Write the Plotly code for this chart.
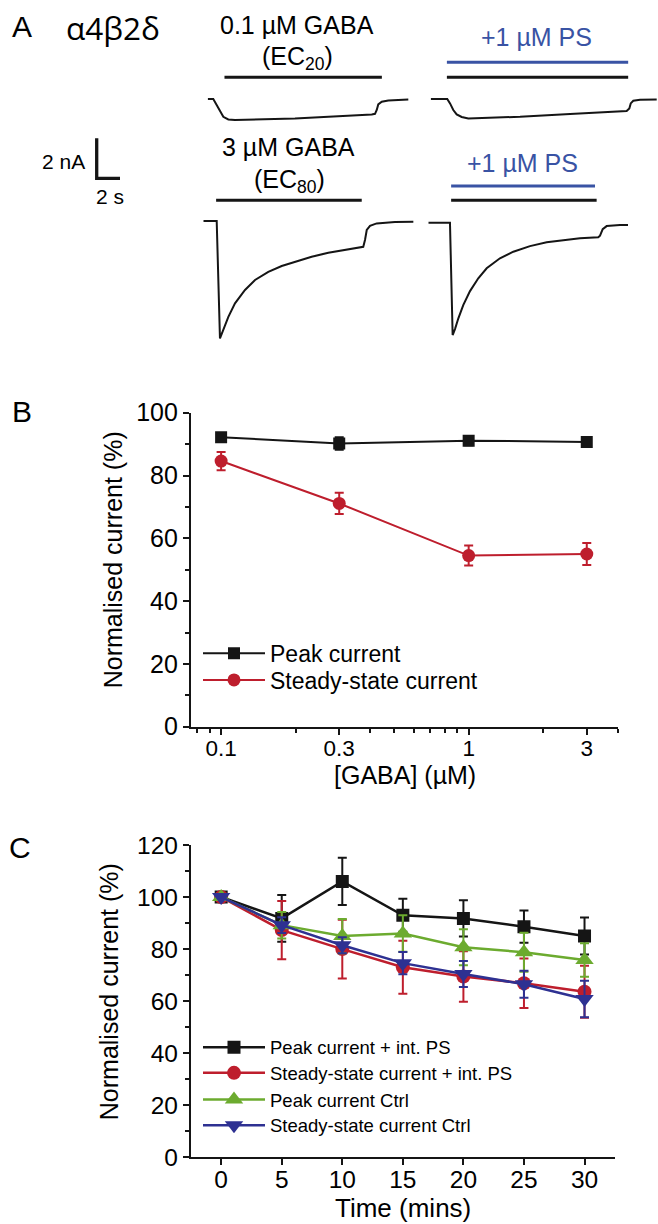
import math
import plotly.graph_objects as go

W, H = 658, 1224


def px_x(px):
    return px / W


def px_y(py):
    return 1 - py / H


# ---------------- Panel A data (time in s, current in nA, baseline = 0) ----------------
t_ec20 = [0, 0.48, 0.77, 1.06, 1.34, 1.77, 2.34, 7.49, 10.35, 14.08, 14.36, 14.51, 14.64, 14.94, 15.50, 17.22]
i_ec20 = [0, 0, -0.30, -0.64, -0.89, -1.02, -1.05, -0.97, -0.89, -0.77, -0.74, -0.55, -0.27, -0.14, -0.07, -0.02]

t_ec20_ps = [0, 1.42, 1.66, 1.94, 2.23, 2.66, 3.23, 7.67, 11.96, 16.82, 17.05, 17.17, 17.39, 17.97, 19.40]
i_ec20_ps = [0, 0, -0.22, -0.55, -0.77, -0.90, -0.97, -0.89, -0.75, -0.60, -0.47, -0.22, -0.09, -0.04, -0.02]

t_ec80 = [0, 1.15, 1.43, 1.72, 2.15, 2.72, 3.58, 4.44, 5.58, 6.73, 7.87, 9.30, 10.73, 12.16, 13.60, 13.73,
          13.88, 14.03, 14.31, 14.88, 16.45, 18.03]
i_ec80 = [0, 0, -5.87, -5.45, -4.79, -4.12, -3.45, -2.95, -2.54, -2.25, -2.04, -1.79, -1.59, -1.44, -1.30, -1.29,
          -0.95, -0.45, -0.24, -0.12, -0.05, -0.04]

t_ec80_ps = [0, 1.86, 2.09, 2.29, 2.58, 3.00, 3.58, 4.29, 5.01, 6.15, 7.30, 8.73, 10.16, 11.59, 13.02, 14.59,
             14.74, 14.97, 15.31, 16.45, 17.14]
i_ec80_ps = [0, 0, -5.62, -5.32, -4.78, -4.12, -3.42, -2.78, -2.28, -1.78, -1.45, -1.17, -0.98, -0.87, -0.78, -0.73,
             -0.65, -0.32, -0.17, -0.12, -0.12]

# drug application windows (s, relative to trace start)
gaba_ec20_on = [1.44, 14.95]
gaba_ec20_ps_on = [1.39, 16.95]
ps_ec20_on = [1.39, 16.95]
gaba_ec80_on = [1.10, 13.60]
gaba_ec80_ps_on = [1.96, 14.45]
ps_ec80_on = [1.96, 14.31]

scale_t = 2   # s
scale_i = 2   # nA

# ---------------- Panel B data ----------------
gaba_conc = [0.1, 0.3, 1, 3]
gaba_labels = ["0.1", "0.3", "1", "3"]
peak_b = [92.2, 90.2, 91.1, 90.7]
peak_b_err = [1.2, 2.0, 1.5, 1.0]
ss_b = [84.6, 71.1, 54.5, 55.0]
ss_b_err = [2.9, 3.4, 3.2, 3.5]

# ---------------- Panel C data ----------------
time_min = [0, 5, 10, 15, 20, 25, 30]
peak_ps = [100, 91.8, 106.0, 93.0, 91.8, 88.6, 85.0]
peak_ps_err = [0, 9.0, 9.1, 6.3, 7.0, 6.2, 7.1]
ss_ps = [100, 87.3, 80.0, 73.0, 69.5, 66.9, 63.6]
ss_ps_err = [0, 11.2, 11.3, 10.2, 9.7, 9.5, 10.0]
peak_ctrl = [100, 89.2, 85.0, 86.0, 80.7, 78.8, 75.8]
peak_ctrl_err = [0, 5.1, 6.6, 7.0, 6.9, 7.5, 6.4]
ss_ctrl = [100, 89.2, 81.5, 74.6, 70.4, 66.5, 60.8]
ss_ctrl_err = [0, 3.0, 3.1, 4.3, 5.0, 5.2, 7.0]

# ---------------- styling ----------------
FONT = "Arial, Liberation Sans, sans-serif"
BLACK = "#151515"
RED = "#be1e2d"
GREEN = "#6cab2f"
NAVY = "#2e3192"
PSBLUE = "#3953a4"
PX_PER_S = 11.65
PX_PER_NA = 20.0

fig = go.Figure()
layout = {}

# ---------------- Panel A ----------------
trace_boxes = [
    # axis n, start px, end px, baseline py, top py, bottom py, data
    (3, 207.7, 437.7, 99.0, 80.0, 135.0, t_ec20, i_ec20),
    (4, 430.7, 658.0, 99.0, 80.0, 135.0, t_ec20_ps, i_ec20_ps),
    (5, 203.3, 433.3, 221.0, 205.0, 350.0, t_ec80, i_ec80),
    (6, 428.3, 658.0, 222.7, 205.0, 350.0, t_ec80_ps, i_ec80_ps),
]
for n, x0, x1, base, top, bot, tx, iy in trace_boxes:
    layout[f"xaxis{n}"] = dict(domain=[px_x(x0), px_x(x1)], range=[0, (x1 - x0) / PX_PER_S],
                               visible=False, anchor=f"y{n}", showgrid=False, zeroline=False)
    layout[f"yaxis{n}"] = dict(domain=[px_y(bot), px_y(top)],
                               range=[-(bot - base) / PX_PER_NA, (base - top) / PX_PER_NA],
                               visible=False, anchor=f"x{n}", showgrid=False, zeroline=False)
    fig.add_trace(go.Scatter(x=tx, y=iy, mode="lines", line=dict(color=BLACK, width=2),
                             xaxis=f"x{n}", yaxis=f"y{n}", showlegend=False, hoverinfo="skip"))

shapes = []


def app_bar(ax, window, py, color):
    shapes.append(dict(type="line", xref=ax, yref="paper", x0=window[0], x1=window[1],
                       y0=px_y(py), y1=px_y(py), line=dict(color=color, width=3)))


app_bar("x3", gaba_ec20_on, 77.3, BLACK)
app_bar("x4", ps_ec20_on, 62.3, PSBLUE)
app_bar("x4", gaba_ec20_ps_on, 77.3, BLACK)
app_bar("x5", gaba_ec80_on, 200.3, BLACK)
app_bar("x6", ps_ec80_on, 186.0, PSBLUE)
app_bar("x6", gaba_ec80_ps_on, 200.3, BLACK)

# scale bar (L shape)
sb_x, sb_y = 96.7, 178.3
shapes.append(dict(type="path", xref="paper", yref="paper",
                   path=f"M {px_x(sb_x)} {px_y(sb_y - scale_i * PX_PER_NA)} L {px_x(sb_x)} {px_y(sb_y)} "
                        f"L {px_x(sb_x + scale_t * PX_PER_S)} {px_y(sb_y)}",
                   line=dict(color=BLACK, width=3.3)))

annotations = []


def text(s, x, y, size, color="black", xanchor="center", family=FONT, angle=0):
    annotations.append(dict(text=s, x=px_x(x), y=px_y(y), xref="paper", yref="paper",
                            xanchor=xanchor, yanchor="middle", showarrow=False, textangle=angle,
                            font=dict(family=family, size=size, color=color)))


text("A", 22, 26, 30)
text("α4β2δ", 113, 27, 31.5, family="Open Sans, DejaVu Sans, sans-serif")
text("0.1 µM GABA", 296.5, 25, 25)
text("(EC<sub>20</sub>)", 297, 58, 25)
text("+1 µM PS", 536.3, 37, 25, color=PSBLUE)
text("3 µM GABA", 288.5, 147, 25)
text("(EC<sub>80</sub>)", 289, 181, 25)
text("+1 µM PS", 522.5, 163.5, 25, color=PSBLUE)
text(f"{scale_i} nA", 63, 161.7, 21)
text(f"{scale_t} s", 110, 196.7, 21)


def legend_box(row_py, size):
    return dict(x=px_x(198), y=px_y(row_py), xanchor="left", yanchor="middle", bgcolor="rgba(0,0,0,0)",
                borderwidth=0, font=dict(family=FONT, size=size, color="black"), itemwidth=62)


# ---------------- Panel B ----------------
fig.add_trace(go.Scatter(x=gaba_conc, y=peak_b, mode="lines+markers", name="Peak current",
                         line=dict(color=BLACK, width=2),
                         marker=dict(symbol="square", size=12, color=BLACK),
                         error_y=dict(type="data", array=peak_b_err, color=BLACK, thickness=2, width=4.5),
                         xaxis="x", yaxis="y", legend="legend"))
fig.add_trace(go.Scatter(x=gaba_conc, y=ss_b, mode="lines+markers", name="Steady-state current",
                         line=dict(color=RED, width=2),
                         marker=dict(symbol="circle", size=13, color=RED),
                         error_y=dict(type="data", array=ss_b_err, color=RED, thickness=2, width=4.5),
                         xaxis="x", yaxis="y", legend="legend2"))
layout["legend"] = legend_box(653.3, 23)
layout["legend2"] = legend_box(680.0, 23)

axis_common = dict(showline=True, linecolor=BLACK, linewidth=2, ticks="outside", ticklen=6, tickwidth=2,
                   tickcolor=BLACK, showgrid=False, zeroline=False, automargin=False,
                   tickfont=dict(family=FONT, size=24, color="black"))

layout["xaxis"] = dict(axis_common, type="log", domain=[px_x(190.9), px_x(617.7)],
                       range=[math.log10(0.0755), math.log10(4.0)], anchor="y",
                       tickmode="array", tickvals=gaba_conc, ticktext=gaba_labels, ticklabelstandoff=-6,
                       tickfont=dict(family=FONT, size=22.5, color="black"),
                       minor=dict(tickmode="array", tickvals=[0.08, 0.09, 0.2, 0.4, 0.5, 0.6, 0.7, 0.8, 0.9, 2, 4],
                                  ticks="outside", ticklen=4, tickwidth=1.5, tickcolor=BLACK))
layout["yaxis"] = dict(axis_common, domain=[px_y(726.7), px_y(412.7)], range=[0, 100], anchor="x",
                       tickmode="linear", tick0=0, dtick=20,
                       tickfont=dict(family=FONT, size=25, color="black"),
                       minor=dict(tick0=0, dtick=10, ticks="outside", ticklen=4, tickwidth=1.5, tickcolor=BLACK))

text("B", 22, 411.7, 30)
text("Normalised current (%)", 113.3, 560, 25, angle=-90)
text("[GABA] (µM)", 405, 775, 25)

# ---------------- Panel C ----------------
series_c = [
    ("Peak current + int. PS", peak_ps, peak_ps_err, BLACK, "square", 13, 1047.7),
    ("Steady-state current + int. PS", ss_ps, ss_ps_err, RED, "circle", 14, 1073.3),
    ("Peak current Ctrl", peak_ctrl, peak_ctrl_err, GREEN, "triangle-up", 16, 1100.0),
    ("Steady-state current Ctrl", ss_ctrl, ss_ctrl_err, NAVY, "triangle-down", 16, 1125.7),
]
for k, (name, vals, errs, col, sym, sz, row) in enumerate(series_c):
    leg_name = f"legend{k + 3}"
    fig.add_trace(go.Scatter(x=time_min, y=vals, mode="lines+markers", name=name,
                             line=dict(color=col, width=2.5),
                             marker=dict(symbol=sym, size=sz, color=col),
                             error_y=dict(type="data", array=errs, color=col, thickness=2, width=4.5),
                             xaxis="x2", yaxis="y2", legend=leg_name))
    layout[leg_name] = legend_box(row, 18.5)

layout["xaxis2"] = dict(axis_common, domain=[px_x(190.9), px_x(614.8)], range=[-2.5, 32.5], anchor="y2",
                        tickmode="array", tickvals=time_min, ticklabelstandoff=-7,
                        tickfont=dict(family=FONT, size=24.5, color="black"))
layout["yaxis2"] = dict(axis_common, domain=[px_y(1157.3), px_y(845)], range=[0, 120], anchor="x2",
                        tickmode="linear", tick0=0, dtick=20,
                        tickfont=dict(family=FONT, size=24.5, color="black"),
                        minor=dict(tick0=0, dtick=10, ticks="outside", ticklen=4, tickwidth=1.5, tickcolor=BLACK))

text("C", 20, 847.5, 30)
text("Normalised current (%)", 108.5, 991.7, 25, angle=-90)
text("Time (mins)", 403, 1208, 26)

fig.update_layout(width=W, height=H, margin=dict(l=0, r=0, t=0, b=0), template="none",
                  paper_bgcolor="white", plot_bgcolor="white", shapes=shapes, annotations=annotations,
                  font=dict(family=FONT, color="black"), **layout)

fig.write_html("out.html", config={"displayModeBar": False},
               post_script="document.body.style.margin='0';document.body.style.overflow='hidden';")
